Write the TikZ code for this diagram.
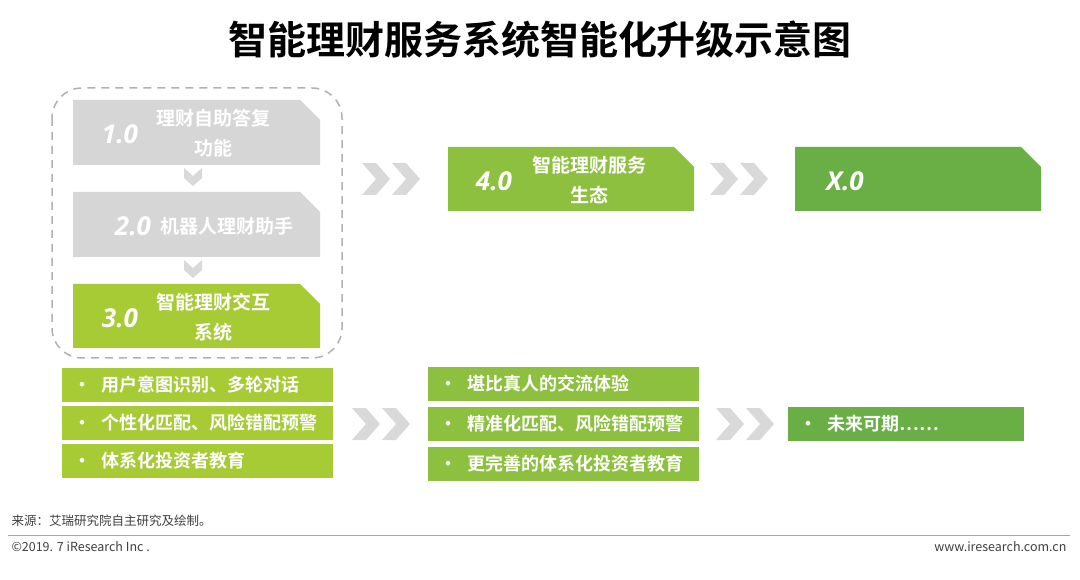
\documentclass[tikz,border=0pt]{standalone}
\usepackage{fontspec}
\setmainfont{Noto Sans CJK SC}[BoldFont={* Bold}]
\newfontfamily\numfont{Open Sans}[BoldItalicFont={* Bold Italic}]
\usetikzlibrary{positioning}
\definecolor{greyband}{HTML}{D6D6D6}
\definecolor{limegreen}{HTML}{A6CB35}
\definecolor{midgreen}{HTML}{8CC03E}
\definecolor{darkgreen}{HTML}{6AAF45}
\definecolor{chevgrey}{HTML}{D9D9D9}
\newcommand{\stagebox}[6]{% x1,y1,x2,y2,color,name
  \fill[#5] (#1,#2) -- (#3-20,#2) -- (#3,#2+20) -- (#3,#4) -- (#1,#4) -- cycle;
  \coordinate (#6) at ({(#1+#3)/2},{(#2+#4)/2});}
\newcommand{\dblchev}[3]{% x,y,name
  \fill[chevgrey] (#1,#2-16) -- (#1+14,#2-16) -- (#1+28,#2) -- (#1+14,#2+16) -- (#1,#2+16) -- (#1+14,#2) -- cycle;
  \fill[chevgrey] (#1+30,#2-16) -- (#1+44,#2-16) -- (#1+58,#2) -- (#1+44,#2+16) -- (#1+30,#2+16) -- (#1+44,#2) -- cycle;
  \coordinate (#3) at (#1+29,#2);}
\tikzset{
  vers/.style={text=white, font=\numfont\bfseries\itshape\fontsize{26}{26}\selectfont},
  stagetext/.style={text=white, align=center, font=\bfseries\fontsize{19}{30}\selectfont},
  bullet/.style={text=white, anchor=west, font=\bfseries\fontsize{18}{20}\selectfont},
  foot/.style={font=\fontsize{12.5}{14}\selectfont, text=black!75}
}
\begin{document}
\begin{tikzpicture}[x=1pt,y=-1pt]
\useasboundingbox[fill=white] (0,0) rectangle (1080,580);
\node[font=\bfseries\fontsize{39}{44}\selectfont] (title) at (540,40) {智能理财服务系统智能化升级示意图};
% left stages
\draw[gray!60, line width=1.5pt, dash pattern=on 8pt off 6pt, rounded corners=30pt] (52,88) rectangle (342,358);
\stagebox{73}{100}{320}{165}{greyband}{s1}
\stagebox{73}{192}{320}{257}{greyband}{s2}
\stagebox{73}{284}{320}{348}{limegreen}{s3}
\fill[chevgrey] (184,168) -- (193,176) -- (202,168) -- (202,178) -- (193,186) -- (184,178) -- cycle;
\fill[chevgrey] (184,260) -- (193,268) -- (202,260) -- (202,270) -- (193,278) -- (184,270) -- cycle;
\node[vers] (v1) at (120,134) {1.0};
\node[stagetext] (t1) at (213,133) {理财自助答复\\功能};
\node[vers] (v2) at (133,226) {2.0};
\node[stagetext] (t2) at (227,226) {机器人理财助手};
\node[vers] (v3) at (120,318) {3.0};
\node[stagetext] (t3) at (213,317) {智能理财交互\\系统};
% upper stages
\stagebox{448}{147}{694}{211}{midgreen}{s4}
\stagebox{795}{147}{1041}{211}{darkgreen}{sx}
\node[vers] (v4) at (494,181) {4.0};
\node[stagetext] (t4) at (589,180) {智能理财服务\\生态};
\node[vers] (vx) at (845,181) {X.0};
\dblchev{362}{179}{c1}
\dblchev{710}{179}{c2}
% lists
\foreach \yy/\txt [count=\i] in {368/用户意图识别、多轮对话,406/个性化匹配、风险错配预警,444/体系化投资者教育}{
  \fill[limegreen] (62,\yy) rectangle (333,\yy+34);
  \node[bullet] (la\i) at (70,\yy+17) {•\hspace{10pt}\txt};
}
\foreach \yy/\txt [count=\i] in {367/堪比真人的交流体验,407/精准化匹配、风险错配预警,447/更完善的体系化投资者教育}{
  \fill[midgreen] (428,\yy) rectangle (699,\yy+34);
  \node[bullet] (lb\i) at (436,\yy+17) {•\hspace{10pt}\txt};
}
\fill[darkgreen] (788,407) rectangle (1024,441);
\node[bullet] (lc1) at (796,424) {•\hspace{10pt}未来可期……};
\dblchev{352}{424}{c3}
\dblchev{716}{424}{c4}
% footer
\node[foot, anchor=west] (src) at (8,521) {来源：艾瑞研究院自主研究及绘制。};
\draw[gray!70, line width=0.8pt] (8,535) -- (1070,535);
\node[foot, anchor=west] (copy) at (8,547) {©2019. 7 iResearch Inc .};
\node[foot, anchor=east] (web) at (1070,547) {www.iresearch.com.cn};
\end{tikzpicture}
\end{document}
